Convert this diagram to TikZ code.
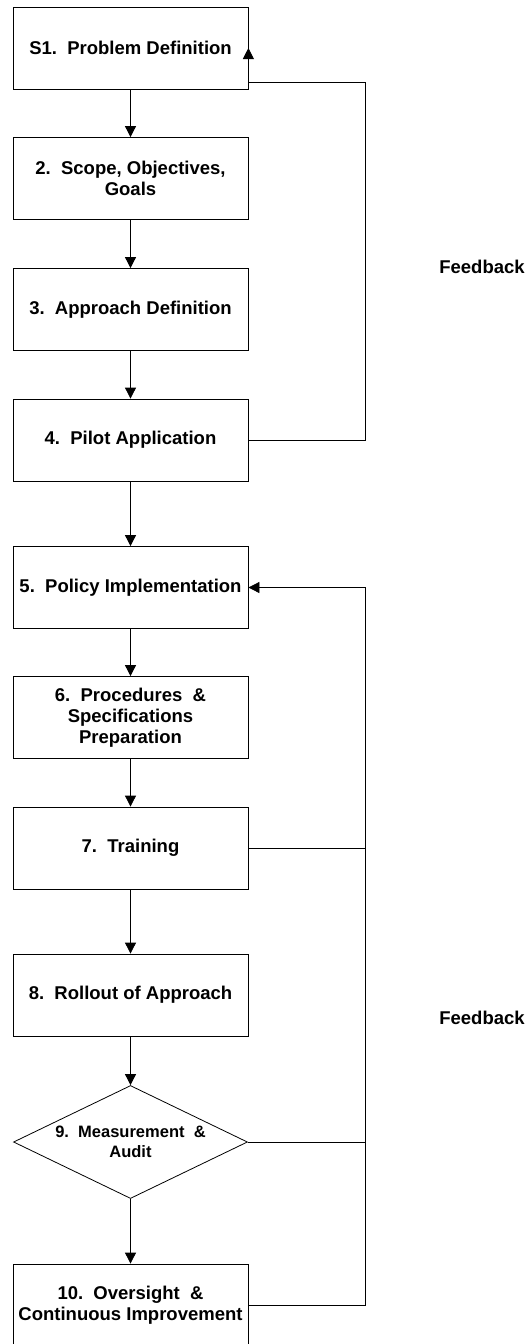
\documentclass[tikz,border=0pt]{standalone}
\usepackage{fontspec}
\setmainfont{Liberation Sans}
\usetikzlibrary{shapes.geometric,arrows.meta}
\tikzset{
  stepbox/.style={draw, rectangle, minimum width=235pt, minimum height=82pt, align=center, inner sep=2pt,
    font=\fontsize{18.5}{21}\selectfont\bfseries, line width=0.8pt},
  checkbox/.style={draw, diamond, aspect=2, minimum width=234pt, minimum height=113pt, inner sep=0pt, align=center,
    font=\fontsize{16.5}{20}\selectfont\bfseries, line width=0.8pt},
  fblabel/.style={font=\fontsize{18.5}{21}\selectfont\bfseries},
}
\begin{document}
\begin{tikzpicture}[x=1pt, y=-1pt, line width=0.8pt, >={Triangle[length=11pt,width=11pt]}]
    \useasboundingbox (0,0) rectangle (529,1344);
    % Nodes
    \node[stepbox] (prob) at (130.5, 48) {S1.\ \ Problem Definition};
    \node[stepbox] (scope) at (130.5, 178.5) {2.\ \ Scope, Objectives,\\ Goals};
    \node[stepbox] (appr) at (130.5, 309.5) {3.\ \ Approach Definition};
    \node[stepbox] (pilot) at (130.5, 440) {4.\ \ Pilot Application};
    \node[stepbox] (policy) at (130.5, 587.5) {5.\ \ Policy Implementation};
    \node[stepbox] (proc) at (130.5, 717.5) {6.\ \ Procedures\ \ \&\\ Specifications\\ Preparation};
    \node[stepbox] (train) at (130.5, 848) {7.\ \ Training};
    \node[stepbox] (roll) at (130.5, 995) {8.\ \ Rollout of Approach};
    \node[checkbox] (audit) at (130.5, 1142) {9.\ \ Measurement\ \ \&\\ Audit};
    \node[stepbox] (over) at (130.5, 1305) {10.\ \ Oversight\ \ \&\\ Continuous Improvement};
    \node[fblabel] (fb1) at (482, 267) {Feedback};
    \node[fblabel] (fb2) at (482, 1018) {Feedback};
    \coordinate (fbtop) at (365, 82);
    \coordinate (fbend) at (prob.east |- fbtop);
    \coordinate (fbbot) at (365, 587.5);

    % Edges
    \foreach \a/\b in {prob/scope, scope/appr, appr/pilot, pilot/policy, policy/proc, proc/train, train/roll, roll/audit, audit/over}
        \draw[->] (\a) -- (\b);
    \draw[->] (pilot.east) -| (fbtop) -- (fbend) -- (prob.east);
    \draw[->] (over.east) -| (fbbot) -- (policy.east);
    \draw (train.east) -- (train.east -| fbbot);
    \draw (audit.east) -- (audit.east -| fbbot);
\end{tikzpicture}
\end{document}
